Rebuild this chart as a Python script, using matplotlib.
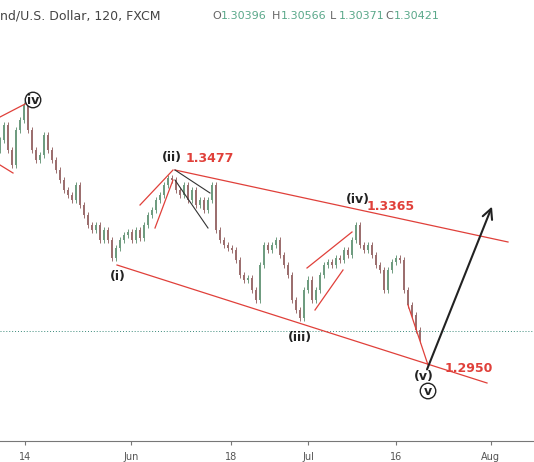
import matplotlib.pyplot as plt
import numpy as np
from matplotlib.patches import Rectangle

closes = [1.3565, 1.3606, 1.3537, 1.3496, 1.3592, 1.3619, 1.3660, 1.3592, 1.3537, 1.3510,
          1.3524, 1.3578, 1.3537, 1.3510, 1.3483, 1.3456, 1.3428, 1.3415, 1.3401, 1.3442,
          1.3387, 1.3360, 1.3333, 1.3319, 1.3333, 1.3292, 1.3319, 1.3292, 1.3243, 1.3270,
          1.3292, 1.3305, 1.3313, 1.3292, 1.3319, 1.3297, 1.3333, 1.3360, 1.3374, 1.3401,
          1.3415, 1.3442, 1.3461, 1.3456, 1.3428, 1.3415, 1.3442, 1.3401, 1.3428, 1.3387,
          1.3401, 1.3374, 1.3401, 1.3442, 1.3319, 1.3292, 1.3278, 1.3270, 1.3264, 1.3237,
          1.3196, 1.3183, 1.3188, 1.3155, 1.3128, 1.3223, 1.3278, 1.3264, 1.3278, 1.3292,
          1.3251, 1.3223, 1.3196, 1.3128, 1.3101, 1.3079, 1.3155, 1.3183, 1.3128, 1.3155,
          1.3196, 1.3223, 1.3232, 1.3223, 1.3243, 1.3237, 1.3264, 1.3251, 1.3292, 1.3333,
          1.3278, 1.3264, 1.3278, 1.3251, 1.3223, 1.3210, 1.3155, 1.3210, 1.3232, 1.3243,
          1.3237, 1.3155, 1.3114, 1.3087, 1.3046, 1.3019]
first_open = 1.3537
tick_days = [0, 18, 35, 48, 63, 79]
tick_labels = ['14', 'Jun', '18', 'Jul', '16', 'Aug']
levels = ['1.3477', '1.3365', '1.2950']
header_vals = ['1.30396', '1.30566', '1.30371', '1.30421']
last_close = 1.3043

W, H = 534, 462
fig = plt.figure(figsize=(W / 100, H / 100), dpi=100)
ax = fig.add_axes([0, (H - 441) / H, 1, 441 / H])

def P(px, py):
    # convert reference pixel position into (day, price)
    return px / 5.9 - 4.2, 1.3947 - py / 3662

ax.set_xlim(P(0, 0)[0], P(W, 0)[0])
ax.set_ylim(P(0, 441)[1], P(0, 0)[1])

pos = np.arange(len(closes)) * 4 / 5.9 - 4.2
opens = [first_open] + closes[:-1]
for x, o, c in zip(pos, opens, closes):
    col = '#6f9c80' if c >= o else '#9c6f6f'
    ax.vlines(x, min(o, c) - 0.0009, max(o, c) + 0.0009, color=col, lw=0.7)
    ax.add_patch(Rectangle((x - 0.17, min(o, c)), 0.34, max(abs(c - o), 0.0002),
                           color=col, lw=0))

ax.axhline(last_close, color='#3a8a7a', lw=0.7, ls=(0, (1, 2)))

red = '#e0403a'
def seg(a, b, col=red, lw=0.9):
    ax.plot(*zip(P(*a), P(*b)), color=col, lw=lw)

seg((175, 170), (508, 242))
seg((117, 265), (487, 383))
seg((0, 117), (27, 103))
seg((0, 165), (13, 173))
seg((140, 205), (173, 170))
seg((155, 228), (173, 180))
seg((175, 170), (210, 193), '#333333', 0.8)
seg((175, 180), (208, 228), '#333333', 0.8)
seg((307, 268), (352, 232))
seg((315, 310), (343, 270))
seg((408, 305), (428, 365))
ax.annotate('', xy=P(493, 204), xytext=P(426, 372),
            arrowprops=dict(arrowstyle='->', color='#222222', lw=1.5, mutation_scale=18))

def lab(txt, px, py, col='#222222', circ=False, **kw):
    bb = dict(boxstyle='circle,pad=0.1', fc='white', ec='#222222', lw=1) if circ else None
    ax.text(*P(px, py), txt, color=col, ha='center', va='center', fontsize=9,
            fontweight='bold', bbox=bb, **kw)

lab('iv', 33, 100, circ=True)
lab('(ii)', 172, 157)
lab(levels[0], 210, 158, red)
lab('(iv)', 358, 199)
lab(levels[1], 391, 206, red)
lab('(i)', 118, 276)
lab('(iii)', 300, 337)
lab('(v)', 424, 376)
lab('v', 428, 391, circ=True)
lab(levels[2], 469, 368, red)

for s in ['top', 'right', 'left']:
    ax.spines[s].set_visible(False)
ax.spines['bottom'].set_color('#777777')
ax.set_yticks([])
ax.set_xticks(tick_days)
ax.set_xticklabels(tick_labels, fontsize=7, color='#555555')
ax.tick_params(axis='x', length=3, color='#777777', pad=5)

fig.text(0, 1 - 16 / H, 'nd/U.S. Dollar, 120, FXCM', fontsize=9, color='#444444', va='center')
xs = [212, 272, 330, 385]
for x, k, v in zip(xs, 'OHLC', header_vals):
    fig.text(x / W, 1 - 16 / H, k, fontsize=8, color='#666666', va='center')
    fig.text((x + 9) / W, 1 - 16 / H, v, fontsize=8, color='#5aa88a', va='center')

fig.savefig('out.png', dpi=100)
